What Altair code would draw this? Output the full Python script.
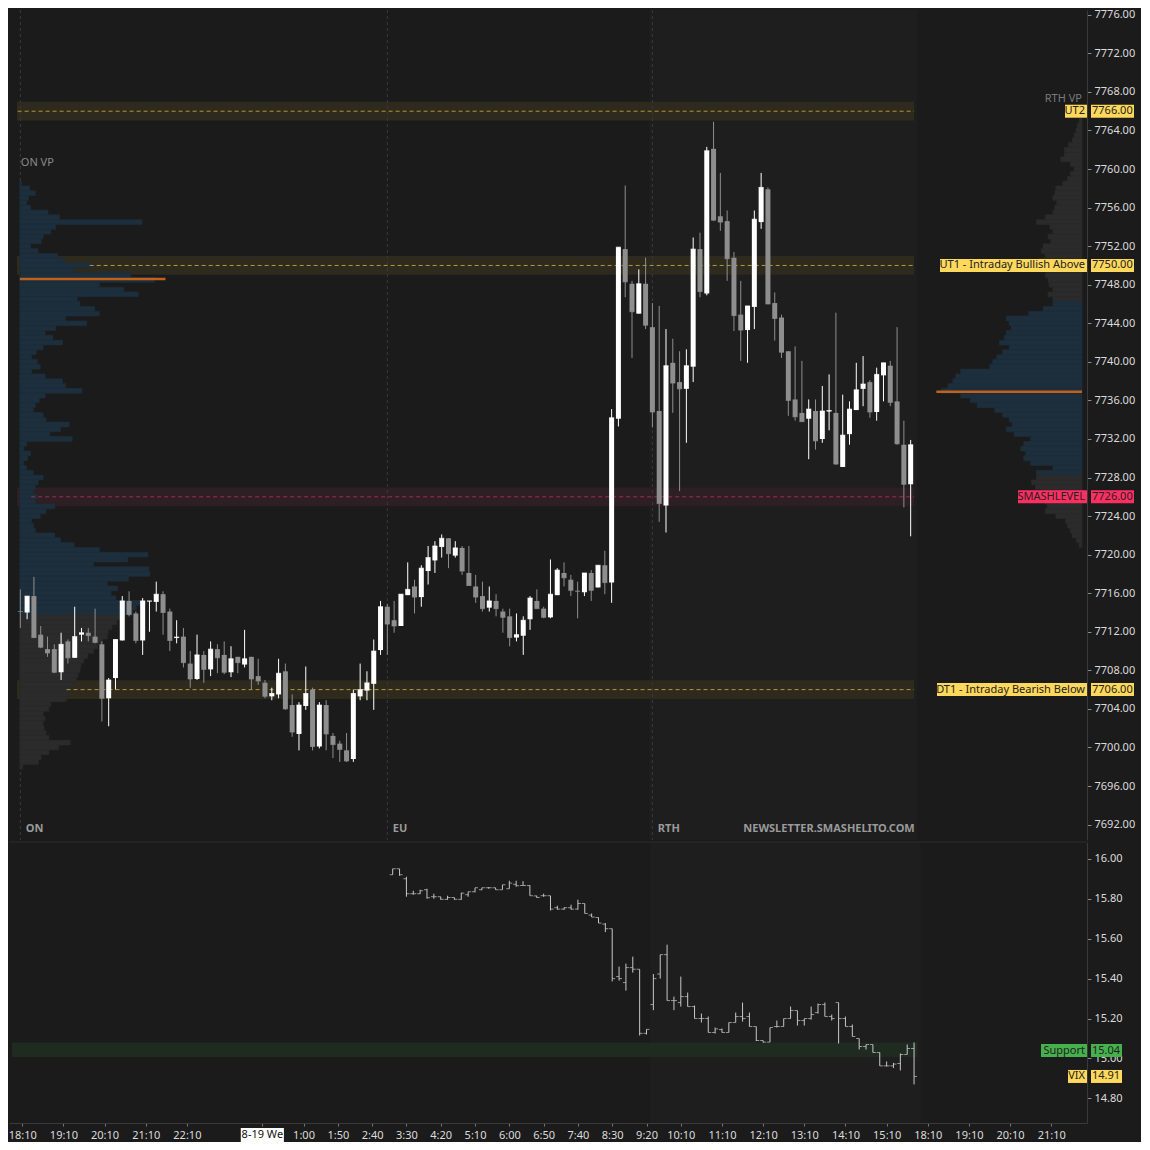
import json
import altair as alt
import numpy as np
import pandas as pd

# ---------------- data ----------------
# 10-minute ES bars, index 0 = 18:00
bar_open = [7714.1, 7714.0, 7715.7, 7711.7, 7710.2, 7710.2, 7707.8, 7711.0, 7709.3, 7711.7,
            7711.9, 7711.5, 7710.7, 7705.1, 7707.2, 7711.1, 7715.2, 7713.9, 7711.1, 7715.15,
            7715.1, 7715.9, 7714.1, 7711.35, 7711.5, 7708.7, 7707.1, 7709.6, 7708.1, 7710.2,
            7709.6, 7707.8, 7709.4, 7708.6, 7709.4, 7707.4, 7706.7, 7705.3, 7705.5, 7707.9,
            7704.4, 7701.4, 7704.3, 7706.0, 7700.1, 7704.4, 7701.2, 7700.4, 7699.7, 7698.8,
            7705.3, 7705.9, 7706.6, 7710.1, 7714.6, 7713.2, 7712.6, 7715.8, 7716.7, 7715.6,
            7718.3, 7719.4, 7720.8, 7721.7, 7719.9, 7720.7, 7718.1, 7716.7, 7715.7, 7714.5,
            7715.2, 7714.1, 7713.6, 7711.4, 7711.6, 7713.3, 7715.2, 7714.4, 7713.5, 7715.8,
            7718.1, 7717.4, 7716.25, 7716.1, 7718.1, 7716.6, 7718.9, 7717.1, 7734.1, 7751.7,
            7748.1, 7745.0, 7748.1, 7743.6, 7734.9, 7725.1, 7739.9, 7737.9, 7737.2, 7739.5,
            7751.7, 7747.1, 7762.1, 7755.1, 7754.6, 7750.8, 7744.9, 7743.3, 7745.7, 7754.5,
            7757.9, 7746.1, 7744.6, 7741.1, 7736.1, 7734.7, 7734.1, 7734.9, 7732.0, 7734.85,
            7734.7, 7729.1, 7732.5, 7735.0, 7737.2, 7737.9, 7734.8, 7738.6, 7739.6, 7735.9,
            7731.4, 7727.3]
bar_high = [7716.4, 7715.7, 7717.7, 7712.6, 7711.5, 7710.7, 7711.9, 7711.2, 7714.6, 7712.4,
            7712.4, 7714.4, 7711.0, 7707.2, 7711.2, 7715.7, 7716.2, 7714.1, 7715.5, 7715.2,
            7717.2, 7716.2, 7714.4, 7713.2, 7712.4, 7710.0, 7711.7, 7710.0, 7711.0, 7710.7,
            7711.0, 7710.5, 7709.4, 7712.2, 7709.4, 7709.2, 7707.0, 7706.2, 7709.2, 7708.7,
            7705.5, 7704.7, 7708.4, 7706.2, 7704.7, 7704.9, 7701.5, 7700.7, 7701.5, 7706.0,
            7708.7, 7707.9, 7711.2, 7715.2, 7714.9, 7715.2, 7715.9, 7719.2, 7717.4, 7718.9,
            7720.9, 7721.4, 7722.1, 7721.7, 7721.4, 7720.9, 7720.9, 7717.9, 7717.2, 7716.7,
            7715.9, 7714.4, 7714.4, 7713.9, 7713.6, 7715.7, 7716.4, 7714.6, 7719.5, 7718.6,
            7719.2, 7717.9, 7717.2, 7718.1, 7718.4, 7718.9, 7720.4, 7735.1, 7751.9, 7758.3,
            7748.4, 7749.6, 7750.8, 7746.1, 7745.8, 7743.4, 7742.4, 7741.1, 7741.3, 7752.9,
            7753.4, 7762.3, 7764.9, 7759.6, 7755.7, 7751.4, 7748.4, 7745.8, 7755.7, 7759.6,
            7758.1, 7747.2, 7744.9, 7741.1, 7741.6, 7740.1, 7736.1, 7736.1, 7737.5, 7738.7,
            7745.1, 7736.6, 7735.9, 7739.9, 7740.6, 7738.1, 7739.4, 7739.9, 7740.1, 7743.6,
            7733.9, 7731.9]
bar_low = [7712.4, 7713.3, 7711.4, 7710.3, 7709.4, 7707.7, 7707.0, 7708.7, 7709.3, 7711.0,
           7711.0, 7710.8, 7702.7, 7702.2, 7706.0, 7711.1, 7713.6, 7710.8, 7709.6, 7712.0,
           7714.1, 7711.7, 7710.0, 7710.8, 7708.3, 7706.2, 7707.0, 7706.7, 7707.4, 7707.7,
           7707.6, 7707.3, 7707.7, 7708.3, 7706.0, 7706.5, 7705.1, 7704.9, 7705.1, 7703.9,
           7701.1, 7699.7, 7703.9, 7699.7, 7699.9, 7699.7, 7698.9, 7698.5, 7698.5, 7698.5,
           7704.9, 7704.9, 7703.9, 7709.6, 7709.6, 7711.9, 7712.6, 7715.8, 7713.9, 7714.6,
           7716.9, 7718.1, 7719.7, 7718.6, 7719.7, 7717.9, 7716.8, 7715.0, 7714.1, 7714.1,
           7713.6, 7711.9, 7710.5, 7711.0, 7709.6, 7712.2, 7714.4, 7713.4, 7713.4, 7715.8,
           7716.7, 7715.7, 7713.4, 7715.7, 7715.2, 7716.6, 7715.9, 7715.0, 7733.3, 7746.7,
           7740.4, 7745.0, 7743.4, 7733.2, 7723.4, 7722.3, 7734.7, 7726.6, 7731.6, 7737.9,
           7746.7, 7746.9, 7754.6, 7753.6, 7748.4, 7743.2, 7740.1, 7739.9, 7743.4, 7753.8,
           7746.0, 7742.2, 7740.4, 7734.4, 7733.9, 7733.8, 7729.9, 7730.9, 7731.6, 7732.9,
           7729.3, 7729.1, 7731.4, 7735.0, 7735.4, 7734.2, 7733.9, 7735.9, 7735.4, 7731.4,
           7724.9, 7721.9]
bar_close = [7714.1, 7715.7, 7711.4, 7710.4, 7709.8, 7707.8, 7710.7, 7709.3, 7711.5, 7711.9,
             7711.6, 7710.9, 7705.1, 7707.0, 7711.2, 7715.2, 7713.8, 7711.1, 7715.2, 7715.2,
             7715.9, 7714.0, 7711.1, 7711.45, 7708.8, 7707.1, 7709.6, 7708.1, 7710.2, 7709.3,
             7707.8, 7709.2, 7708.8, 7709.2, 7707.1, 7706.9, 7705.3, 7705.6, 7707.7, 7704.0,
             7701.6, 7704.4, 7705.6, 7700.1, 7704.4, 7701.4, 7700.3, 7699.8, 7698.6, 7705.6,
             7706.0, 7706.7, 7710.0, 7714.6, 7712.8, 7712.6, 7715.9, 7716.4, 7715.6, 7718.6,
             7719.7, 7720.9, 7721.7, 7720.1, 7720.7, 7718.3, 7716.8, 7715.6, 7714.4, 7715.2,
             7714.4, 7713.5, 7711.4, 7711.7, 7713.2, 7715.5, 7714.4, 7713.5, 7715.9, 7718.4,
             7717.6, 7716.3, 7716.2, 7718.1, 7716.3, 7718.9, 7717.1, 7734.2, 7751.9, 7748.3,
             7745.2, 7748.1, 7743.8, 7734.8, 7725.3, 7739.6, 7737.8, 7737.2, 7739.6, 7751.7,
             7747.3, 7761.9, 7754.7, 7754.5, 7750.7, 7744.8, 7743.3, 7745.8, 7754.8, 7758.1,
             7746.0, 7744.5, 7741.0, 7736.0, 7734.3, 7733.8, 7735.1, 7731.8, 7734.9, 7734.95,
             7729.4, 7732.4, 7735.1, 7737.1, 7737.7, 7734.8, 7738.7, 7739.9, 7735.8, 7731.5,
             7727.3, 7731.4]

# VIX bars, first one at index 55
vix_first = 55
vix_open = [15.92, 15.95, 15.90, 15.825, 15.825, 15.845, 15.81, 15.81, 15.797, 15.806,
            15.797, 15.82, 15.835, 15.845, 15.855, 15.855, 15.845, 15.85, 15.872, 15.866,
            15.866, 15.814, 15.815, 15.815, 15.755, 15.748, 15.755, 15.748, 15.776, 15.718,
            15.706, 15.673, 15.65, 15.41, 15.38, 15.455, 15.447, 15.126, 15.27, 15.423,
            15.52, 15.29, 15.28, 15.31, 15.26, 15.20, 15.20, 15.13, 15.145, 15.13,
            15.18, 15.21, 15.21, 15.16, 15.09, 15.082, 15.16, 15.16, 15.20, 15.24,
            15.19, 15.20, 15.23, 15.27, 15.21, 15.28, 15.20, 15.16, 15.10, 15.06,
            15.07, 15.03, 14.963, 14.963, 14.975, 15.02, 15.05]
vix_high = [15.95, 15.95, 15.91, 15.84, 15.845, 15.85, 15.825, 15.81, 15.815, 15.806,
            15.83, 15.835, 15.855, 15.855, 15.858, 15.855, 15.87, 15.89, 15.89, 15.888,
            15.868, 15.815, 15.825, 15.815, 15.765, 15.757, 15.77, 15.795, 15.776, 15.726,
            15.706, 15.678, 15.65, 15.46, 15.475, 15.51, 15.447, 15.146, 15.423, 15.52,
            15.57, 15.31, 15.41, 15.33, 15.265, 15.225, 15.21, 15.155, 15.15, 15.18,
            15.23, 15.28, 15.23, 15.16, 15.09, 15.155, 15.19, 15.20, 15.26, 15.24,
            15.20, 15.26, 15.275, 15.28, 15.22, 15.28, 15.21, 15.17, 15.10, 15.07,
            15.07, 15.03, 14.985, 14.978, 15.025, 15.07, 15.08]
vix_low = [15.92, 15.915, 15.81, 15.82, 15.823, 15.80, 15.80, 15.795, 15.795, 15.795,
           15.795, 15.81, 15.832, 15.843, 15.85, 15.845, 15.845, 15.85, 15.86, 15.866,
           15.815, 15.805, 15.81, 15.741, 15.745, 15.745, 15.745, 15.745, 15.726, 15.708,
           15.678, 15.633, 15.386, 15.39, 15.34, 15.43, 15.115, 15.12, 15.242, 15.40,
           15.29, 15.242, 15.26, 15.26, 15.20, 15.18, 15.13, 15.125, 15.13, 15.13,
           15.18, 15.185, 15.16, 15.087, 15.08, 15.082, 15.155, 15.16, 15.20, 15.165,
           15.165, 15.195, 15.225, 15.21, 15.19, 15.075, 15.16, 15.11, 15.045, 15.045,
           15.03, 14.963, 14.96, 14.952, 14.94, 15.02, 14.87]
vix_close = [15.95, 15.92, 15.825, 15.825, 15.84, 15.805, 15.81, 15.797, 15.806, 15.797,
             15.828, 15.835, 15.855, 15.855, 15.855, 15.845, 15.87, 15.878, 15.865, 15.866,
             15.815, 15.806, 15.815, 15.748, 15.748, 15.755, 15.748, 15.776, 15.726, 15.708,
             15.678, 15.65, 15.40, 15.40, 15.455, 15.447, 15.126, 15.146, 15.40, 15.52,
             15.29, 15.29, 15.31, 15.26, 15.20, 15.20, 15.13, 15.148, 15.13, 15.18,
             15.21, 15.20, 15.16, 15.09, 15.082, 15.155, 15.16, 15.20, 15.24, 15.19,
             15.20, 15.22, 15.27, 15.21, 15.20, 15.20, 15.16, 15.11, 15.06, 15.07,
             15.03, 14.963, 14.963, 14.972, 15.02, 15.05, 14.91]

# Overnight volume profile (0.5 pt rows from the top price down)
on_vp_top = 7758.5
on_vp = [2, 10, 16, 9, 7, 11, 29, 41, 126, 37, 32, 24, 22, 11, 19, 39, 46, 74, 56, 114,
         139, 82, 107, 122, 59, 62, 77, 82, 47, 69, 37, 26, 34, 44, 24, 17, 12, 18, 21, 12,
         26, 44, 47, 64, 26, 20, 16, 14, 24, 27, 51, 42, 31, 54, 7, 4, 11, 8, 4, 7,
         14, 24, 19, 16, 14, 18, 16, 36, 27, 21, 12, 14, 16, 36, 42, 56, 82, 132, 111, 76,
         133, 134, 112, 90, 101, 94, 99, 130, 120, 116, 105, 100, 95, 91, 90, 85, 80, 76, 70, 66,
         63, 62, 60, 58, 55, 52, 50, 48, 32, 30, 24, 26, 24, 25, 27, 30, 52, 40, 30, 22,
         19, 3]
on_va = (7714.0, 7758.5)
on_poc = 7748.6

# RTH volume profile
rth_vp_top = 7765.0
rth_vp = [3, 5, 6, 8, 10, 14, 18, 18, 22, 12, 8, 12, 15, 20, 27, 28, 30, 26, 28, 30,
          38, 47, 33, 30, 35, 32, 40, 42, 38, 44, 40, 36, 38, 35, 34, 30, 35, 30,
          30, 40, 55, 78, 75, 73, 78, 80, 85, 75, 82, 88, 92, 95, 125, 130, 133, 138, 145, 125,
          115, 108, 90, 82, 75, 72, 78, 70, 53, 60, 63, 58, 60, 53, 30, 47,
          47, 52, 48, 42, 40, 38, 36, 38, 27, 17, 15, 12, 10, 6, 3]
rth_va = (7728.5, 7746.0)
rth_poc = 7736.9

level_names = ["UT2", "UT1 - Intraday Bullish Above", "SMASHLEVEL", "DT1 - Intraday Bearish Below"]
level_prices = [7766.0, 7750.0, 7726.0, 7706.0]
level_kind = ["bull", "bull", "smash", "bull"]

vix_names = ["Support", "VIX"]
vix_values = [15.04, 14.91]

session_names = ["ON", "EU", "RTH"]
session_idx = [0, 54, 93]

tick_idx = [1, 7, 13, 19, 25, 36, 42, 47, 52, 57, 62, 67, 72, 77, 82, 87, 92, 97, 103, 109,
            115, 121, 127, 133, 139, 145, 151]
tick_labels = ["18:10", "19:10", "20:10", "21:10", "22:10", "8-19 We", "1:00", "1:50", "2:40",
               "3:30", "4:20", "5:10", "6:00", "6:50", "7:40", "8:30", "9:20", "10:10", "11:10",
               "12:10", "13:10", "14:10", "15:10", "18:10", "19:10", "20:10", "21:10"]

# ---------------- layout / style ----------------
W, H1, H2 = 1078, 830, 281
XMIN, XMAX = -0.93, 156.21
U = (XMAX - XMIN) / 1100.0          # index units per reference pixel
FONT = "Noto Sans"
BG = "#1b1b1b"
RTHBG = "#1e1e1e"
UP, DOWN = "#ffffff", "#8e8e8e"
YEL, RED, GRN = "#ffd85c", "#ff2f62", "#45b04c"
box_w = {"UT2": 22, "UT1 - Intraday Bullish Above": 147, "SMASHLEVEL": 69,
         "DT1 - Intraday Bearish Below": 150, "Support": 46, "VIX": 19}
dash_start = {"UT2": -0.4, "UT1 - Intraday Bullish Above": 10.2, "SMASHLEVEL": 1.6,
              "DT1 - Intraday Bearish Below": 6.8}

xs = alt.Scale(domain=[XMIN, XMAX], nice=False, zero=False)
yts = alt.Scale(domain=[7690.4, 7776.5], nice=False, zero=False)
ybs = alt.Scale(domain=[14.677, 16.084], nice=False, zero=False)

axis_common = dict(orient="right", format=".2f", labelColor="#dcdcdc", labelFontSize=11,
                   labelFont=FONT, tickColor="#8a8a8a", tickSize=4, domainColor="#3a3a3a",
                   grid=False, title=None, labelPadding=3)
yaxis_top = alt.Axis(values=list(range(7692, 7777, 4)), **axis_common)
yaxis_bot = alt.Axis(values=[14.8, 15.0, 15.2, 15.4, 15.6, 15.8, 16.0], **axis_common)

lab_js = json.dumps(["" if t == "8-19 We" else t for t in tick_labels])
idx_js = json.dumps(tick_idx)
xaxis_bot = alt.Axis(values=tick_idx, labelExpr=f"{lab_js}[indexof({idx_js}, datum.value)]",
                     labelColor="#dcdcdc", labelFontSize=11, labelFont=FONT, tickColor="#777",
                     tickSize=3, domainColor="#3a3a3a", labelPadding=3, grid=False, title=None,
                     labelFlush=False, labelOverlap=False)


def XT(f):
    return alt.X(f, type="quantitative", scale=xs, axis=None)


def XB(f):
    return alt.X(f, type="quantitative", scale=xs, axis=xaxis_bot)


def YT(f):
    return alt.Y(f, type="quantitative", scale=yts, axis=yaxis_top)


def YB(f):
    return alt.Y(f, type="quantitative", scale=ybs, axis=yaxis_bot)


def NOCOL(f):
    return alt.Color(f, type="nominal", scale=None)


def NOSTROKE(f):
    return alt.Stroke(f, type="nominal", scale=None)


# ---------------- frames ----------------
c = pd.DataFrame({"i": range(len(bar_open)), "o": bar_open, "h": bar_high,
                  "l": bar_low, "c": bar_close})
c["col"] = np.where(c["c"] > c["o"], UP, DOWN)

v = pd.DataFrame({"i": range(vix_first, vix_first + len(vix_open)), "o": vix_open,
                  "h": vix_high, "l": vix_low, "c": vix_close})

ON_BASE = 6.0 * U + XMIN
on = pd.DataFrame({"p": [on_vp_top - 0.5 * k for k in range(len(on_vp))], "w": on_vp})
on["lo"], on["hi"] = on["p"] - 0.25, on["p"] + 0.25
on["a"] = ON_BASE
on["b"] = ON_BASE + on["w"] * U
on["col"] = np.where((on["p"] >= on_va[0]) & (on["p"] <= on_va[1]), "#1d2f3c", "#2b2b2b")

rth = pd.DataFrame({"p": [rth_vp_top - 0.5 * k for k in range(len(rth_vp))], "w": rth_vp})
rth["lo"], rth["hi"] = rth["p"] - 0.25, rth["p"] + 0.25
rth["b"] = XMAX
rth["a"] = XMAX - rth["w"] * U
rth["col"] = np.where((rth["p"] >= rth_va[0]) & (rth["p"] <= rth_va[1]), "#1d2f3c", "#2b2b2b")

poc = pd.DataFrame({"p": [on_poc, rth_poc], "a": [ON_BASE, XMAX - 150 * U],
                    "b": [ON_BASE + 150 * U, XMAX]})

lv = pd.DataFrame({"name": level_names, "p": level_prices, "kind": level_kind})
lv["lo"], lv["hi"] = lv["p"] - 0.97, lv["p"] + 0.97
lv["a"], lv["b"] = -0.5, 131.5
lv["ds"] = lv["name"].map(dash_start)
lv["band"] = np.where(lv["kind"] == "smash", "#2d1f24", "#2e2a1e")
lv["dash"] = np.where(lv["kind"] == "smash", "#a02e4e", "#b4983a")
lv["val"] = lv["p"].map(lambda x: f"{x:.2f}")

sess = pd.DataFrame({"name": session_names, "i": session_idx})
sess["tx"] = sess["i"] + 0.8

rth_bg = pd.DataFrame({"a": [92.5], "b": [132.0]})

# ---------------- top panel ----------------
top_layers = [
    alt.Chart(rth_bg).mark_rect(color=RTHBG).encode(
        x=XT("a"), x2="b", y=alt.value(0), y2=alt.value(H1)),
    alt.Chart(lv).mark_rect().encode(x=XT("a"), x2="b", y=YT("lo"), y2="hi", color=NOCOL("band")),
    alt.Chart(sess).mark_rule(color="#3a3a3a", strokeDash=[3, 3]).encode(
        x=XT("i"), y=alt.value(0), y2=alt.value(H1)),
    alt.Chart(on).mark_rect(strokeWidth=0.6).encode(
        x=XT("a"), x2="b", y=YT("lo"), y2="hi", color=NOCOL("col"), stroke=NOSTROKE("col")),
    alt.Chart(rth).mark_rect(strokeWidth=0.6).encode(
        x=XT("a"), x2="b", y=YT("lo"), y2="hi", color=NOCOL("col"), stroke=NOSTROKE("col")),
    alt.Chart(poc).mark_rule(color="#c0621c", strokeWidth=2.5).encode(x=XT("a"), x2="b", y=YT("p")),
    alt.Chart(lv).mark_rule(strokeDash=[4, 3], strokeWidth=1).encode(
        x=XT("ds"), x2="b", y=YT("p"), color=NOCOL("dash")),
    alt.Chart(c).mark_rule(strokeWidth=1).encode(x=XT("i"), y=YT("l"), y2="h", color=NOCOL("col")),
    alt.Chart(c).mark_bar(size=5).encode(x=XT("i"), y=YT("o"), y2="c", color=NOCOL("col")),
    alt.Chart(c).mark_tick(orient="horizontal", size=5, thickness=1).encode(
        x=XT("i"), y=YT("c"), color=NOCOL("col")),
    # texts
    alt.Chart(pd.DataFrame({"t": ["ON VP"], "x": [0.07], "y": [7760.6]})).mark_text(
        align="left", baseline="middle", color="#8a8a8a", fontSize=11, font=FONT).encode(
        x=XT("x"), y=YT("y"), text="t"),
    alt.Chart(pd.DataFrame({"t": ["RTH VP"], "x": [XMAX], "y": [7767.3]})).mark_text(
        align="right", baseline="middle", color="#7a7a7a", fontSize=11, font=FONT).encode(
        x=XT("x"), y=YT("y"), text="t"),
    alt.Chart(sess).mark_text(align="left", baseline="middle", color="#9a9a9a", fontSize=11,
                              fontWeight="bold", font=FONT).encode(
        x=XT("tx"), y=alt.value(H1 - 11), text="name"),
    alt.Chart(pd.DataFrame({"t": ["NEWSLETTER.SMASHELITO.COM"], "x": [131.6]})).mark_text(
        align="right", baseline="middle", color="#9a9a9a", fontSize=11, fontWeight="bold",
        font=FONT).encode(x=XT("x"), y=alt.value(H1 - 11), text="t"),
]

for _, r in lv.iterrows():
    col = RED if r["kind"] == "smash" else YEL
    one = pd.DataFrame({"p": [r["p"]], "name": [r["name"]], "val": [r["val"]]})
    bw = box_w[r["name"]]
    top_layers += [
        alt.Chart(one).mark_rule(strokeWidth=13, strokeCap="butt", color=col).encode(
            x=alt.value(W - bw), x2=alt.value(W), y=YT("p")),
        alt.Chart(one).mark_rule(strokeWidth=13, strokeCap="butt", color=col).encode(
            x=alt.value(W + 4), x2=alt.value(W + 47), y=YT("p")),
        alt.Chart(one).mark_text(align="right", baseline="middle", color="#222", fontSize=11,
                                 font=FONT).encode(x=alt.value(W - 2), y=YT("p"), text="name"),
        alt.Chart(one).mark_text(align="left", baseline="middle", color="#222", fontSize=11,
                                 font=FONT).encode(x=alt.value(W + 5), y=YT("p"), text="val"),
    ]

top = alt.layer(*top_layers).properties(width=W, height=H1)

# ---------------- bottom panel ----------------
sup = pd.DataFrame({"p": [vix_values[0]], "lo": [15.007], "hi": [15.08], "a": [-0.5], "b": [131.5]})
we = pd.DataFrame({"i": [36], "t": ["8-19 We"]})
we["a"], we["b"] = we["i"] - 22 * U, we["i"] + 22 * U

bot_layers = [
    alt.Chart(rth_bg).mark_rect(color=RTHBG).encode(
        x=XB("a"), x2="b", y=alt.value(0), y2=alt.value(H2)),
    alt.Chart(sup).mark_rect(color="#1f2a20").encode(x=XB("a"), x2="b", y=YB("lo"), y2="hi"),
    alt.Chart(v).mark_rule(color="#c8c8c8", strokeWidth=1).encode(x=XB("i"), y=YB("l"), y2="h"),
    alt.Chart(v).mark_tick(orient="horizontal", size=3, thickness=1, xOffset=-1.5,
                           color="#c8c8c8").encode(x=XB("i"), y=YB("o")),
    alt.Chart(v).mark_tick(orient="horizontal", size=3, thickness=1, xOffset=1.5,
                           color="#c8c8c8").encode(x=XB("i"), y=YB("c")),
    alt.Chart(we).mark_rule(color="#ffffff", strokeWidth=14, strokeCap="butt").encode(
        x=XB("a"), x2="b", y=alt.value(H2 + 12)),
    alt.Chart(we).mark_text(color="#111111", fontSize=11, font=FONT, baseline="middle").encode(
        x=XB("i"), y=alt.value(H2 + 12), text="t"),
    alt.Chart(pd.DataFrame({"a": [XMIN], "b": [XMAX]})).mark_rule(color="#2c2c2c").encode(
        x=XB("a"), x2="b", y=alt.value(0)),
]
for name, val in zip(vix_names, vix_values):
    col = GRN if name == "Support" else YEL
    one = pd.DataFrame({"p": [val], "name": [name], "val": [f"{val:.2f}"]})
    bw = box_w[name]
    bot_layers += [
        alt.Chart(one).mark_rule(strokeWidth=13, strokeCap="butt", color=col).encode(
            x=alt.value(W - bw), x2=alt.value(W), y=YB("p")),
        alt.Chart(one).mark_rule(strokeWidth=13, strokeCap="butt", color=col).encode(
            x=alt.value(W + 4), x2=alt.value(W + 35), y=YB("p")),
        alt.Chart(one).mark_text(align="right", baseline="middle", color="#222", fontSize=11,
                                 font=FONT).encode(x=alt.value(W - 2), y=YB("p"), text="name"),
        alt.Chart(one).mark_text(align="left", baseline="middle", color="#222", fontSize=11,
                                 font=FONT).encode(x=alt.value(W + 5), y=YB("p"), text="val"),
    ]

bottom = alt.layer(*bot_layers).properties(width=W, height=H2)

chart = alt.vconcat(top, bottom, spacing=0).properties(
    padding={"left": 0, "right": 0, "top": 0, "bottom": 0}
).configure(background=BG, font=FONT, padding=0).configure_view(stroke=None)

chart.save("out.html", embed_options={"renderer": "svg", "actions": False})
